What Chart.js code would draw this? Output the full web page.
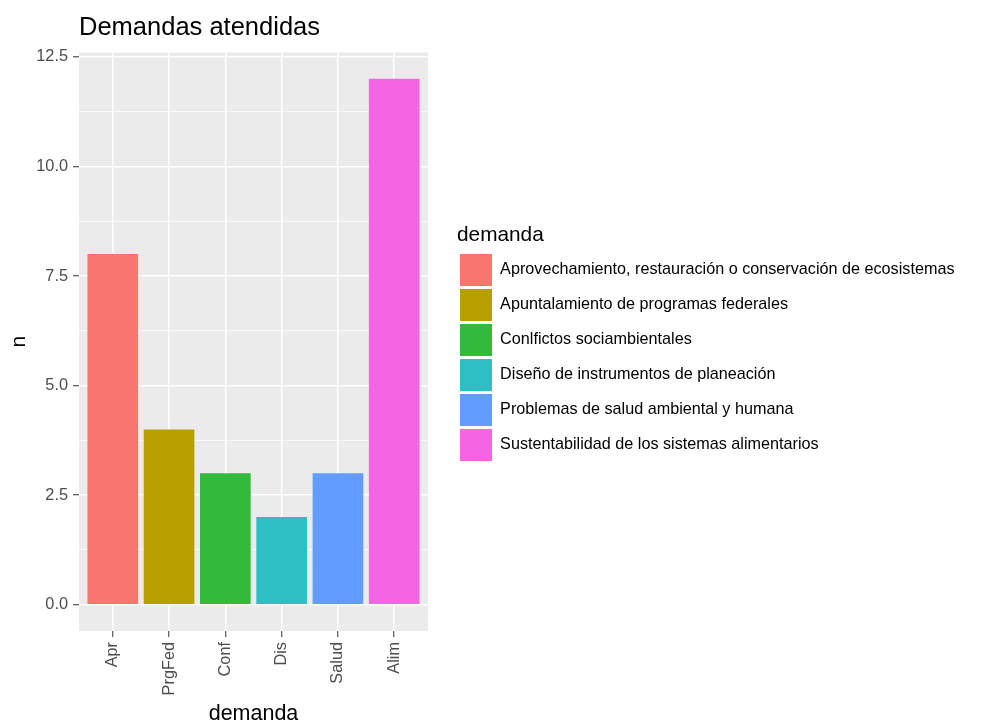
<!DOCTYPE html>
<html>
<head>
<meta charset="utf-8">
<title>Demandas atendidas</title>
<script src="https://cdn.jsdelivr.net/npm/chart.js@4.4.0/dist/chart.umd.min.js"></script>
<style>
  html, body { margin: 0; padding: 0; background: #ffffff; }
  #wrap { width: 997px; height: 723px; }
</style>
</head>
<body>
<div id="wrap"><canvas id="myChart" width="997" height="723"></canvas></div>
<script>
// data
const categories = ['Apr', 'PrgFed', 'Conf', 'Dis', 'Salud', 'Alim'];
const legendLabels = [
  'Aprovechamiento, restauración o conservación de ecosistemas',
  'Apuntalamiento de programas federales',
  'Conlfictos sociambientales',
  'Diseño de instrumentos de planeación',
  'Problemas de salud ambiental y humana',
  'Sustentabilidad de los sistemas alimentarios'
];
const counts = [8, 4, 3, 2, 3, 12];
const barColors = ['#F8766D', '#B79F00', '#33B93B', '#2DBFC4', '#619CFF', '#F564E3'];
const yMajorTicks = [0, 2.5, 5, 7.5, 10, 12.5];
const yTickLabels = ['0.0', '2.5', '5.0', '7.5', '10.0', '12.5'];
const yMinorTicks = [1.25, 3.75, 6.25, 8.75, 11.25];

const FONT = "'Liberation Sans', Arial, sans-serif";
const xPositions = categories.map((c, i) => i + 1);

// grey panel behind the grid, like ggplot
const panelBg = {
  id: 'panelBg',
  beforeDraw(chart) {
    const { ctx, chartArea: a } = chart;
    ctx.save();
    ctx.fillStyle = '#EBEBEB';
    ctx.fillRect(a.left, a.top, a.right - a.left, a.bottom - a.top);
    ctx.restore();
  }
};

const isMajor = v => yMajorTicks.some(m => Math.abs(m - v) < 1e-9);

new Chart(document.getElementById('myChart'), {
  type: 'bar',
  data: {
    datasets: [{
      label: 'demanda',
      data: categories.map((c, i) => ({ x: xPositions[i], y: counts[i] })),
      backgroundColor: barColors,
      borderWidth: 0,
      barPercentage: 0.9,
      categoryPercentage: 1
    }]
  },
  options: {
    responsive: false,
    animation: false,
    layout: { padding: { left: 0, right: 40, top: 0, bottom: 0 } },
    scales: {
      x: {
        type: 'linear',
        position: 'bottom',
        min: 0.4,
        max: 6.6,
        offset: false,
        afterBuildTicks: scale => { scale.ticks = xPositions.map(v => ({ value: v })); },
        afterFit: scale => { scale.height = 92; },
        ticks: {
          autoSkip: false,
          maxRotation: 90,
          minRotation: 90,
          padding: 5,
          color: '#4D4D4D',
          font: { family: FONT, size: 16.3 },
          callback: (v, i) => categories[i]
        },
        grid: {
          offset: false,
          color: '#FFFFFF',
          lineWidth: 1.5,
          drawTicks: true,
          tickLength: 6,
          tickColor: '#333333',
          tickWidth: 1
        },
        border: { display: false },
        title: {
          display: true,
          text: 'demanda',
          color: '#000000',
          font: { family: FONT, size: 21.5 },
          padding: { top: 0, bottom: -4 }
        }
      },
      y: {
        type: 'linear',
        position: 'left',
        min: -0.6,
        max: 12.6,
        afterBuildTicks: scale => {
          scale.ticks = yMajorTicks.concat(yMinorTicks).sort((a, b) => a - b).map(v => ({ value: v }));
        },
        afterFit: scale => { scale.width = 79; },
        ticks: {
          padding: 5,
          color: '#4D4D4D',
          font: { family: FONT, size: 16.3 },
          callback: v => {
            const k = yMajorTicks.findIndex(m => Math.abs(m - v) < 1e-9);
            return k >= 0 ? yTickLabels[k] : '';
          }
        },
        grid: {
          color: '#FFFFFF',
          lineWidth: c => (isMajor(c.tick.value) ? 1.5 : 0.7),
          drawTicks: true,
          tickLength: 6,
          tickWidth: 1,
          tickColor: c => (isMajor(c.tick.value) ? '#333333' : 'rgba(0,0,0,0)')
        },
        border: { display: false },
        title: {
          display: true,
          text: 'n',
          color: '#000000',
          font: { family: FONT, size: 21 },
          padding: { top: 6.5, bottom: 0 }
        }
      },
      // empty axis used only as the gap between panel and legend
      gap: {
        type: 'linear',
        position: 'right',
        display: true,
        afterFit: scale => { scale.width = 29; },
        ticks: { display: false },
        grid: { display: false, drawTicks: false },
        border: { display: false }
      }
    },
    plugins: {
      tooltip: { enabled: false },
      title: {
        display: true,
        text: 'Demandas atendidas',
        align: 'start',
        fullSize: false,
        color: '#000000',
        font: { family: FONT, size: 25.5, weight: 'normal' },
        padding: { top: 12.5, bottom: 9.4 }
      },
      legend: {
        display: true,
        position: 'right',
        align: 'start',
        maxWidth: 500,
        onClick: null,
        title: {
          display: true,
          text: 'demanda',
          position: 'start',
          color: '#000000',
          font: { family: FONT, size: 20.8 },
          padding: { top: 224.5, bottom: 1.5 }
        },
        labels: {
          boxWidth: 32,
          boxHeight: 32,
          padding: 3,
          color: '#000000',
          font: { family: FONT, size: 16.2 },
          generateLabels: () => legendLabels.map((t, i) => ({
            text: t,
            fillStyle: barColors[i],
            strokeStyle: barColors[i],
            lineWidth: 0,
            hidden: false,
            index: i,
            datasetIndex: 0
          }))
        }
      }
    }
  },
  plugins: [panelBg]
});
</script>
</body>
</html>
